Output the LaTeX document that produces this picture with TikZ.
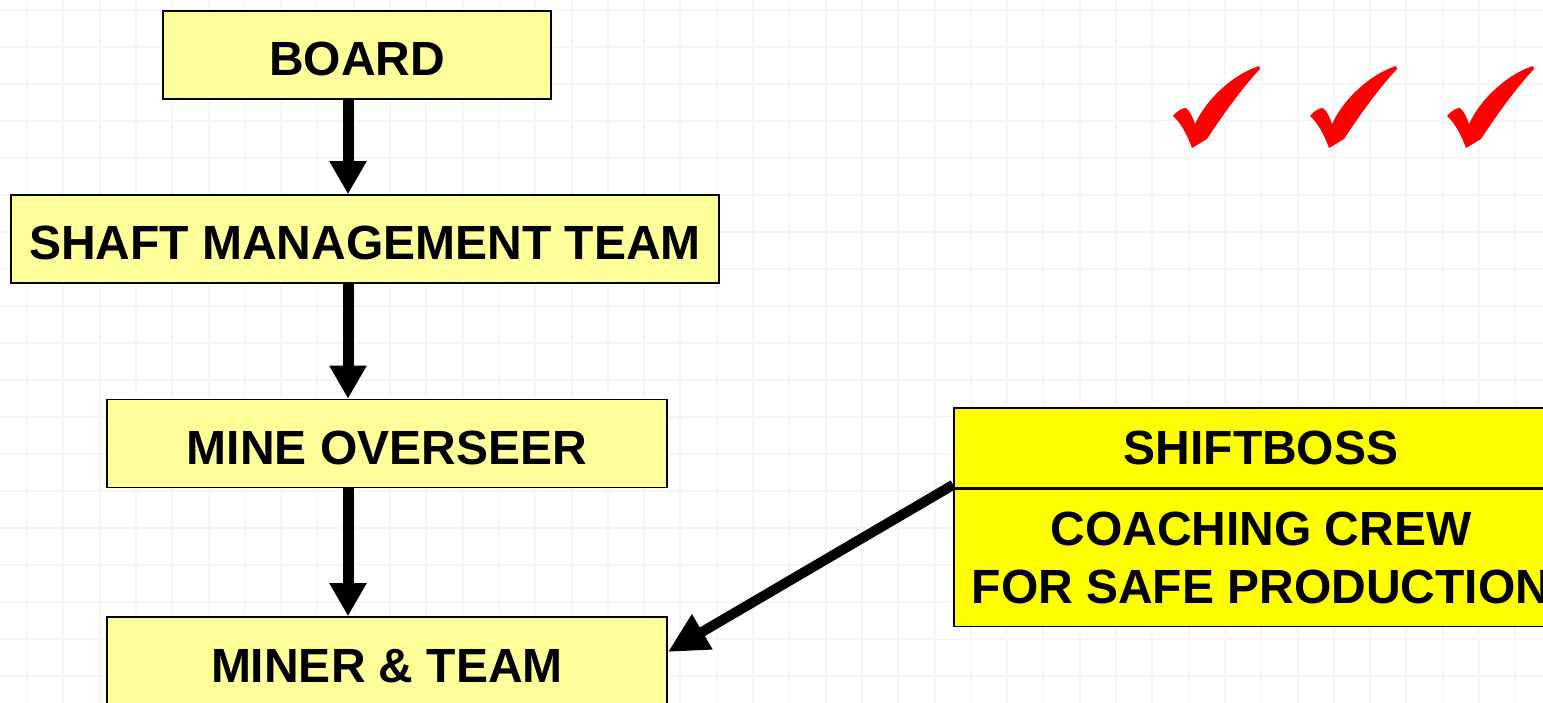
\documentclass[tikz,border=0pt]{standalone}
\usepackage{fontspec}
\setmainfont{Liberation Sans}
\usepackage{xcolor}
\usepackage{tikz}
\usetikzlibrary{positioning,arrows.meta}

\definecolor{paleyellow}{HTML}{FFFF99}
\definecolor{brightyellow}{HTML}{FFFF00}
\definecolor{tickred}{HTML}{FF0000}

\begin{document}
\begin{tikzpicture}[x=1pt, y=-1pt, font=\fontsize{48}{58}\selectfont\bfseries,
		gridline/.style={draw=black!4, line width=2pt},
		tier/.style={draw, line width=1.6pt, minimum height=88pt, align=center, inner sep=0pt},
		rung/.style={tier, fill=paleyellow, text height=42pt, text depth=0pt},
		crew/.style={tier, fill=brightyellow, minimum width=614pt},
		link/.style={line width=11pt, -{Triangle[length=33pt, width=35pt]}}]
		\useasboundingbox (0,0) rectangle (1543,703);
		\clip (0,0) rectangle (1543,703);
		\fill[white] (0,0) rectangle (1543,703);
		% faint squared paper
		\foreach \gx in {0,...,41} \draw[gridline] ({27+36.3*\gx},0) -- ++(0,703);
		\foreach \gy in {0,...,18} \draw[gridline] (0,{10+37*\gy}) -- ++(1543,0);

		\node[rung, minimum width=388pt] (board) at (357,55) {BOARD};
		\node[rung, minimum width=708pt] (shaft) at (365,239) {SHAFT MANAGEMENT TEAM};
		\node[rung, minimum width=560pt] (mine) at (387,443.5) {MINE OVERSEER};
		\node[rung, minimum width=560pt] (miner) at (387,661) {MINER \& TEAM};
		\node[crew, minimum height=80pt] (shift) at (1261,448) {SHIFTBOSS};
		\node[crew, minimum height=137pt, below=0pt of shift] (coach) {COACHING CREW\\FOR SAFE PRODUCTION};

		\coordinate (spine) at (348,0);
		\draw[link] (board.south -| spine) -- (shaft.north -| spine);
		\draw[link] (shaft.south -| spine) -- (mine.north -| spine);
		\draw[link] (mine.south -| spine) -- (miner.north -| spine);
		\draw[link, line width=10pt, -{Triangle[length=40pt, width=38pt]}] ([yshift=4pt]shift.south west) -- ([yshift=9pt]miner.east);

		% red ticks
		\foreach \cx in {1192,1329,1466}
			\fill[tickred, shift={(\cx,148)}, yscale=-1] (0,0) .. controls (-5,14) and (-12,26) .. (-19,32)
				.. controls (-15,37) and (-10,40) .. (-6,40) .. controls (-2,37) and (1,30) .. (3,24)
				.. controls (15,50) and (42,74) .. (67,82) -- (68,79) .. controls (50,60) and (30,32) .. (15,9) -- cycle;
	\end{tikzpicture}
\end{document}
